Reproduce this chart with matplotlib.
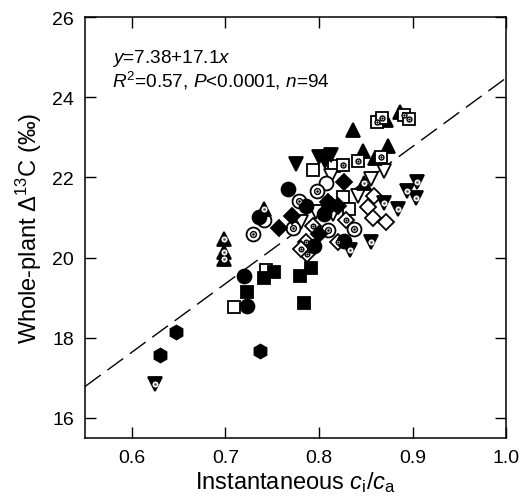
import matplotlib

matplotlib.use("Agg")
import matplotlib.pyplot as plt  # noqa: E402

plt.rcParams["font.family"] = ["Liberation Sans", "DejaVu Sans"]
plt.rcParams["mathtext.fontset"] = "custom"
plt.rcParams["mathtext.rm"] = "Liberation Sans"
plt.rcParams["mathtext.it"] = "Liberation Sans:italic"

# regression: y = a + b x
fit_a = 7.38
fit_b = 17.1

# each marker group: instantaneous ci/ca (x) and whole-plant D13C (y)
tri_up_fill_x = [0.836, 0.872, 0.887, 0.847, 0.874, 0.860]
tri_up_fill_y = [23.18, 23.43, 23.63, 22.65, 22.78, 22.48]

sq_dot_x = [0.862, 0.867, 0.891, 0.896, 0.826, 0.842, 0.866]
sq_dot_y = [23.38, 23.47, 23.55, 23.45, 22.32, 22.40, 22.50]

tri_down_fill_x = [0.775, 0.800, 0.813, 0.806]
tri_down_fill_y = [22.33, 22.50, 22.55, 22.42]

sq_open_x = [0.794, 0.816, 0.826, 0.832, 0.709, 0.743]
sq_open_y = [22.18, 22.28, 21.50, 21.20, 18.78, 19.68]

tri_down_open_x = [0.813, 0.870, 0.856, 0.842, 0.815, 0.797, 0.781]
tri_down_open_y = [22.03, 22.15, 21.95, 21.53, 21.08, 21.15, 20.88]

dia_fill_x = [0.757, 0.771, 0.810, 0.820, 0.827, 0.800, 0.813]
dia_fill_y = [20.74, 21.03, 21.38, 21.28, 21.88, 20.58, 21.32]

circ_open_x = [0.807, 0.741]
circ_open_y = [21.85, 20.95]

circ_fill_x = [0.767, 0.736, 0.786, 0.805, 0.795, 0.827, 0.720, 0.723]
circ_fill_y = [21.72, 21.02, 21.28, 21.08, 20.28, 20.42, 19.55, 18.80]

circ_dot_x = [0.729, 0.779, 0.798, 0.772, 0.810, 0.837]
circ_dot_y = [20.60, 21.40, 21.65, 20.75, 20.70, 20.72]

dia_dot_x = [0.794, 0.786, 0.787, 0.829, 0.820, 0.781]
dia_dot_y = [20.78, 20.38, 20.10, 20.93, 20.38, 20.22]

dia_open_x = [0.859, 0.852, 0.858, 0.872]
dia_open_y = [21.53, 21.25, 20.98, 20.88]

tri_down_dot_x = [0.905, 0.894, 0.904, 0.869, 0.885, 0.856, 0.833, 0.625]
tri_down_dot_y = [21.88, 21.65, 21.48, 21.35, 21.20, 20.38, 20.20, 16.85]

tri_up_dot_x = [0.699, 0.699, 0.698, 0.741, 0.848]
tri_up_dot_y = [20.47, 20.15, 19.97, 21.20, 21.85]

sq_fill_x = [0.752, 0.741, 0.723, 0.791, 0.780, 0.784]
sq_fill_y = [19.65, 19.48, 19.15, 19.75, 19.53, 18.88]

hex_fill_x = [0.647, 0.630, 0.737]
hex_fill_y = [18.15, 17.58, 17.68]

x_ticks = [0.6, 0.7, 0.8, 0.9, 1.0]
y_ticks = [16, 18, 20, 22, 24, 26]


def pts(ax, x, y, marker, ms, face, edge="black", mew=1.3, z=3):
    ax.plot(x, y, linestyle="none", marker=marker, markersize=ms,
            markerfacecolor=face, markeredgecolor=edge, markeredgewidth=mew, zorder=z)


def dotted(ax, x, y, marker, ms, face):
    # outer marker, then a small ringed dot in the middle
    pts(ax, x, y, marker, ms, face)
    if face == "black":
        pts(ax, x, y, "o", ms * 0.38, "white", edge="white", mew=0.5, z=4)
        pts(ax, x, y, "o", ms * 0.15, "0.3", edge="0.3", mew=0.3, z=5)
    else:
        pts(ax, x, y, "o", ms * 0.42, "white", edge="black", mew=1.0, z=4)
        pts(ax, x, y, "o", ms * 0.15, "black", edge="black", mew=0.3, z=5)


fig = plt.figure(figsize=(5.25, 5.02), dpi=100)
ax = fig.add_axes([0.162, 0.1255, 0.802, 0.8385])

line_x = [0.55, 1.0]
line_y = [fit_a + fit_b * v for v in line_x]
ax.plot(line_x, line_y, color="black", lw=1.0, dashes=(14, 6), zorder=2)

pts(ax, sq_open_x, sq_open_y, "s", 8.5, "white")
pts(ax, dia_open_x, dia_open_y, "D", 8, "white")
pts(ax, tri_down_open_x, tri_down_open_y, "v", 10, "white")
pts(ax, circ_open_x, circ_open_y, "o", 10, "white")
dotted(ax, dia_dot_x, dia_dot_y, "D", 8, "white")
dotted(ax, circ_dot_x, circ_dot_y, "o", 10, "white")
pts(ax, dia_fill_x, dia_fill_y, "D", 8, "black")
pts(ax, circ_fill_x, circ_fill_y, "o", 10, "black")
pts(ax, sq_fill_x, sq_fill_y, "s", 8.5, "black")
pts(ax, hex_fill_x, hex_fill_y, "h", 10, "black")
pts(ax, tri_down_fill_x, tri_down_fill_y, "v", 10, "black")
dotted(ax, tri_down_dot_x, tri_down_dot_y, "v", 10, "black")
dotted(ax, tri_up_dot_x, tri_up_dot_y, "^", 10, "black")
pts(ax, tri_up_fill_x, tri_up_fill_y, "^", 10, "black")
dotted(ax, sq_dot_x, sq_dot_y, "s", 8.5, "white")

ax.set_xlim(0.55, 1.0)
ax.set_ylim(15.5, 26)
ax.set_xticks(x_ticks)
ax.set_xticklabels([f"{v:.1f}" for v in x_ticks])
ax.set_yticks(y_ticks)
ax.tick_params(direction="in", length=8, width=1.0, labelsize=14,
               top=True, right=True, pad=8)
for s in ax.spines.values():
    s.set_linewidth(1.1)

ax.set_xlabel(r"Instantaneous $c_{\mathrm{i}}$/$c_{\mathrm{a}}$", fontsize=17, labelpad=2)
ax.set_ylabel(r"Whole-plant $\Delta$$^{\mathrm{13}}$C (‰)", fontsize=17, labelpad=6)

ax.text(0.064, 0.93, r"$y$=7.38+17.1$x$", transform=ax.transAxes,
        fontsize=13.7, va="top")
ax.text(0.064, 0.876, r"$R^{\mathrm{2}}$=0.57, $P$<0.0001, $n$=94",
        transform=ax.transAxes, fontsize=13.7, va="top")

fig.savefig("out.png", dpi=100)
